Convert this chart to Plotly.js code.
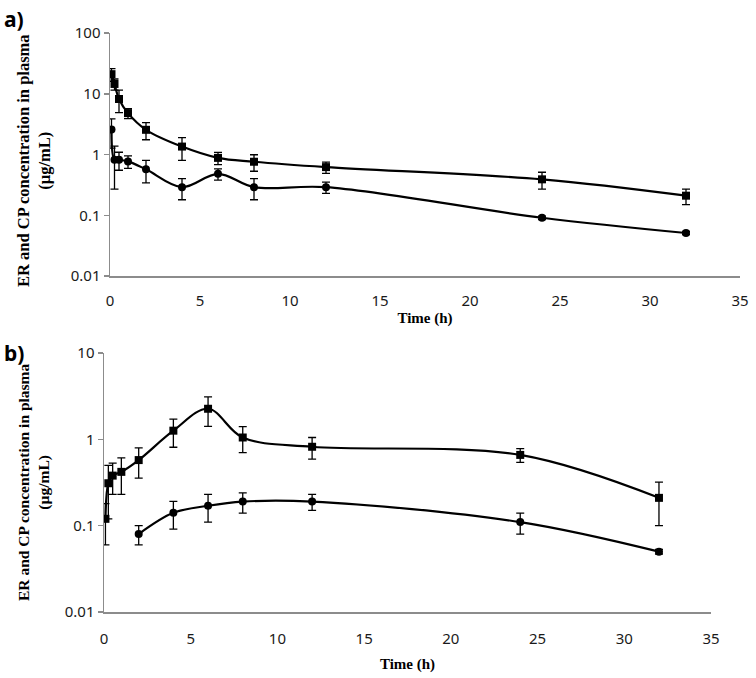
<!DOCTYPE html>
<html>
<head>
<meta charset="utf-8">
<script src="https://cdn.plot.ly/plotly-3.0.1.min.js"></script>
<style>
  html, body { margin: 0; padding: 0; background: #fff; }
  #chart { width: 756px; height: 678px; }
</style>
</head>
<body>
<div id="chart"></div>
<script>
// Panel a) data
const timesA = [0.083, 0.25, 0.5, 1, 2, 4, 6, 8, 12, 24, 32];
const squareA = [21, 14.5, 8.2, 4.8, 2.55, 1.35, 0.88, 0.76, 0.62, 0.39, 0.21];
const squareAErr = [5, 3, 3.3, 0.9, 0.8, 0.55, 0.2, 0.23, 0.13, 0.12, 0.06];
const circleA = [2.57, 0.82, 0.82, 0.77, 0.57, 0.29, 0.48, 0.29, 0.29, 0.091, 0.051];
const circleAErr = [1.3, 0.55, 0.27, 0.18, 0.23, 0.11, 0.1, 0.11, 0.06, 0.006, 0.003];

// Panel b) data
const timesB = [0.083, 0.25, 0.5, 1, 2, 4, 6, 8, 12, 24, 32];
const squareB = [0.12, 0.31, 0.38, 0.42, 0.575, 1.26, 2.26, 1.05, 0.82, 0.66, 0.21];
const squareBErr = [0.06, 0.19, 0.15, 0.19, 0.22, 0.45, 0.85, 0.35, 0.23, 0.12, 0.11];
const timesBCircle = [2, 4, 6, 8, 12, 24, 32];
const circleB = [0.08, 0.141, 0.17, 0.19, 0.19, 0.11, 0.05];
const circleBErr = [0.02, 0.05, 0.06, 0.05, 0.04, 0.03, 0.003];

const yTicksA = [100, 10, 1, 0.1, 0.01];
const yTicksB = [10, 1, 0.1, 0.01];
const yTickText = v => String(v);

const W = 756, H = 678;

function series(x, y, err, symbol, xa, ya) {
    return {
        x: x, y: y, xaxis: xa, yaxis: ya,
        type: 'scatter', mode: 'lines+markers',
        line: {color: '#000', width: 2.2, shape: 'spline', smoothing: 1},
        marker: {color: '#000', symbol: symbol, size: 8},
        error_y: {type: 'data', array: err, visible: true, color: '#000', thickness: 1.3, width: 4},
        showlegend: false, hoverinfo: 'x+y'
    };
}

const traces = [
    series(timesA, squareA, squareAErr, 'square', 'x', 'y'),
    series(timesA, circleA, circleAErr, 'circle', 'x', 'y'),
    series(timesB, squareB, squareBErr, 'square', 'x2', 'y2'),
    series(timesBCircle, circleB, circleBErr, 'circle', 'x2', 'y2')
];

const tickFont = {family: 'Noto Sans, sans-serif', size: 15, color: '#1a1a1a'};
const titleFont = {family: 'Liberation Serif, serif', size: 15, color: '#000', weight: 'bold'};
const yTitleFontA = {family: 'Liberation Serif, serif', size: 16.5, color: '#000', weight: 'bold'};
const yTitleFontB = {family: 'Liberation Serif, serif', size: 15.5, color: '#000', weight: 'bold'};
const axisGrey = '#8c8c8c';

function xAxis(domain, anchor, standoff, titleStandoff) {
    return {
        domain: domain, anchor: anchor, range: [0, 35], dtick: 5, tick0: 0,
        showline: true, linecolor: axisGrey, linewidth: 1.5,
        showgrid: false, zeroline: false, ticks: '',
        ticklabelstandoff: standoff,
        tickfont: tickFont,
        title: {text: '<b>Time (h)</b>', font: titleFont, standoff: titleStandoff}
    };
}

function yAxis(domain, anchor, range, vals) {
    return {
        domain: domain, anchor: anchor, type: 'log', range: range,
        tickvals: vals, ticktext: vals.map(yTickText),
        showline: true, linecolor: axisGrey, linewidth: 1.5,
        showgrid: false, zeroline: false,
        ticks: 'outside', ticklen: 5, tickcolor: axisGrey, tickwidth: 1.5,
        tickfont: tickFont
    };
}

const layout = {
    width: W, height: H,
    margin: {l: 0, r: 0, t: 0, b: 0},
    paper_bgcolor: '#fff', plot_bgcolor: '#fff',
    xaxis: xAxis([110 / W, 740 / W], 'y', 10, 4),
    yaxis: yAxis([1 - 276 / H, 1 - 33 / H], 'x', [-2, 2], yTicksA),
    xaxis2: xAxis([104 / W, 711 / W], 'y2', 12, 12),
    yaxis2: yAxis([1 - 612 / H, 1 - 353 / H], 'x2', [-2, 1], yTicksB),
    annotations: [
        {text: '<b>a)</b>', x: 2 / W, y: 1 - 3 / H, xref: 'paper', yref: 'paper',
         xanchor: 'left', yanchor: 'top', showarrow: false,
         font: {family: 'Noto Sans, sans-serif', size: 21, color: '#000'}},
        {text: '<b>b)</b>', x: 2 / W, y: 1 - 337 / H, xref: 'paper', yref: 'paper',
         xanchor: 'left', yanchor: 'top', showarrow: false,
         font: {family: 'Noto Sans, sans-serif', size: 21, color: '#000'}},
        {text: '<b>ER and CP concentration in plasma<br>(µg/mL)</b>', textangle: -90,
         x: 34 / W, y: 1 - 161 / H, xref: 'paper', yref: 'paper',
         xanchor: 'center', yanchor: 'middle', showarrow: false, font: yTitleFontA},
        {text: '<b>ER and CP concentration in plasma<br>(µg/mL)</b>', textangle: -90,
         x: 34 / W, y: 1 - 482 / H, xref: 'paper', yref: 'paper',
         xanchor: 'center', yanchor: 'middle', showarrow: false, font: yTitleFontB}
    ]
};

Plotly.newPlot('chart', traces, layout, {displayModeBar: false, staticPlot: true});
</script>
</body>
</html>
